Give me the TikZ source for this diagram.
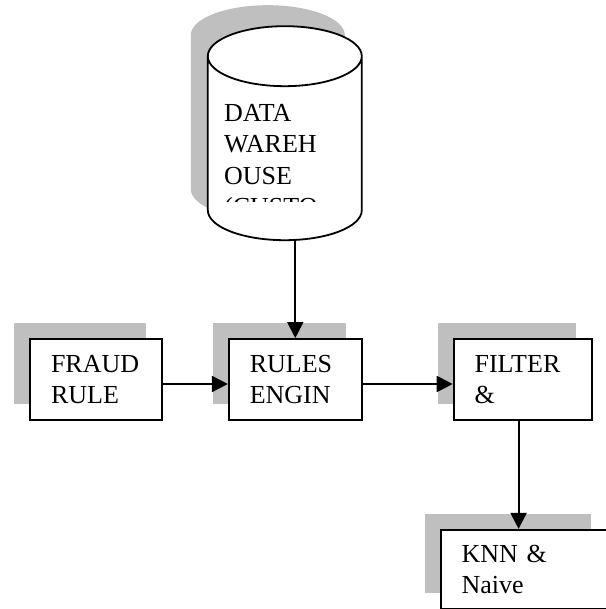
\documentclass[tikz,border=0pt]{standalone}
\usepackage{fontspec}
\setmainfont{Liberation Serif}
\usetikzlibrary{positioning,shapes.geometric,shadows,arrows.meta}

\begin{document}
\begin{tikzpicture}[
    x=1pt, y=1pt,
    stage/.style={draw, line width=1.8pt, fill=white, align=left,
      minimum height=81pt, inner xsep=21pt,
      font=\fontsize{26}{31}\selectfont,
      general shadow={fill=black!25, shadow xshift=-16pt, shadow yshift=16pt}},
    warehouse/.style={cylinder, shape border rotate=90, draw, line width=1.8pt,
      fill=white, minimum width=154pt, minimum height=214pt, aspect=9,
      general shadow={fill=black!25, shadow xshift=-17pt, shadow yshift=21pt}},
    flow/.style={-{Triangle[length=16pt,width=16pt]}, line width=1.8pt}
  ]
  \useasboundingbox (0,0) rectangle (605,609);

  \node[stage, text width=90pt] (fraud) at (96,229.5) {FRAUD\\ RULE};
  \node[stage, text width=91pt, right=65pt of fraud] (rules) {RULES\\ ENGIN};
  \node[stage, text width=96pt, right=90pt of rules] (filter) {FILTER\\ \&};
  \node[stage, text width=124.5pt, minimum height=79.5pt,
    below=108pt of filter, xshift=1.25pt] (knn) {KNN \&\\ Naive};
  \node[warehouse, above=97pt of rules, xshift=-10.5pt] (dw) {};

  \begin{scope}
    \clip (206,407) rectangle (360,518);
    \node[anchor=north west, inner sep=0pt, align=left,
      font=\fontsize{26}{31.5}\selectfont] (dwtext) at (224,505)
      {DATA\\ WAREH\\ OUSE\\ (CUSTO};
  \end{scope}

  \draw[flow] (dw.south -| rules.north) -- (rules.north);
  \draw[flow] ([yshift=-4.5pt]fraud.east) -- ([yshift=-4.5pt]rules.west);
  \draw[flow] ([yshift=-4.5pt]rules.east) -- ([yshift=-4.5pt]filter.west);
  \draw[flow] ([xshift=-4pt]filter.south) -- ([xshift=-4pt]filter.south |- knn.north);
\end{tikzpicture}
\end{document}
